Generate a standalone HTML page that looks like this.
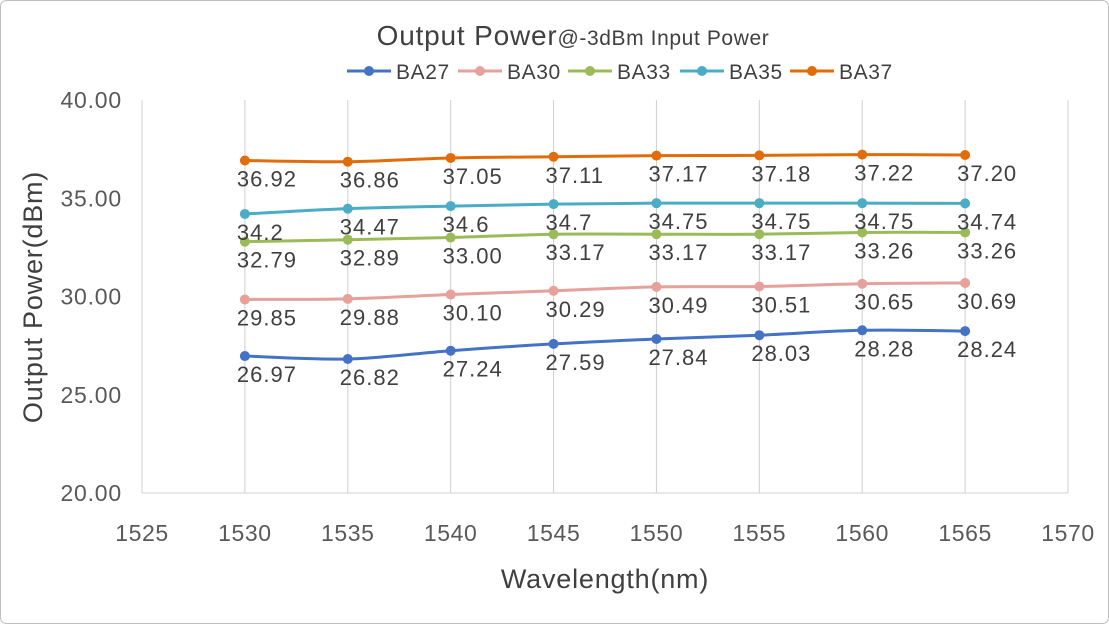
<!DOCTYPE html>
<html><head><meta charset="utf-8"><style>
body{margin:0;background:#fff;}
svg text{font-family:"Liberation Sans",sans-serif;}
</style></head><body>
<svg id="c" width="1109" height="624" xmlns="http://www.w3.org/2000/svg">
<rect x="0.5" y="0.5" width="1108" height="623" rx="6" fill="#fff" stroke="#bfbfbf"/>
<text x="573" y="45" text-anchor="middle" fill="#404040"><tspan font-size="28" letter-spacing="0.8">Output Power</tspan><tspan font-size="21" letter-spacing="0.6">@-3dBm Input Power</tspan></text>
<g id="grid"></g><g id="axes"></g><g id="series"></g><g id="legend"></g>
<text x="605" y="588" text-anchor="middle" font-size="27" letter-spacing="0.8" fill="#404040">Wavelength(nm)</text>
<text transform="translate(42,297) rotate(-90)" text-anchor="middle" font-size="27" letter-spacing="0.8" fill="#404040">Output Power(dBm)</text>
</svg>
<script>
const categories=[1530,1535,1540,1545,1550,1555,1560,1565];
const seriesNames=["BA27","BA30","BA33","BA35","BA37"];
const ba27=[26.97,26.82,27.24,27.59,27.84,28.03,28.28,28.24];
const ba30=[29.85,29.88,30.10,30.29,30.49,30.51,30.65,30.69];
const ba33=[32.79,32.89,33.00,33.17,33.17,33.17,33.26,33.26];
const ba35=[34.2,34.47,34.6,34.7,34.75,34.75,34.75,34.74];
const ba37=[36.92,36.86,37.05,37.11,37.17,37.18,37.22,37.20];
const lab27=["26.97","26.82","27.24","27.59","27.84","28.03","28.28","28.24"];
const lab30=["29.85","29.88","30.10","30.29","30.49","30.51","30.65","30.69"];
const lab33=["32.79","32.89","33.00","33.17","33.17","33.17","33.26","33.26"];
const lab35=["34.2","34.47","34.6","34.7","34.75","34.75","34.75","34.74"];
const lab37=["36.92","36.86","37.05","37.11","37.17","37.18","37.22","37.20"];
const xTicks=[1525,1530,1535,1540,1545,1550,1555,1560,1565,1570];
const yTicks=[20,25,30,35,40];
const yTickLabels=["20.00","25.00","30.00","35.00","40.00"];
const colors=["#4472c4","#e6a19b","#9bbb59","#4bacc6","#e36c0a"];
const NS="http://www.w3.org/2000/svg";
const X=v=>142+(v-1525)*(926/45);
const Y=v=>493-(v-20)*(393/20);
function mk(t,a,p){const e=document.createElementNS(NS,t);for(const k in a)e.setAttribute(k,a[k]);p.appendChild(e);return e;}
const grid=document.getElementById('grid'),axes=document.getElementById('axes');
xTicks.forEach((v,i)=>{
 const l=mk('line',{x1:X(v),x2:X(v),y1:Y(40),y2:Y(20),stroke:'#d0d0d0','stroke-width':1},grid);
 
 
 const t=mk('text',{x:X(v),y:541,'text-anchor':'middle','font-size':23,'letter-spacing':0.6,fill:'#595959'},axes);t.textContent=v;
 
 
});
yTicks.forEach((v,i)=>{
 const t=mk('text',{x:122,y:Y(v)+8,'text-anchor':'end','font-size':23,'letter-spacing':0.8,fill:'#595959'},axes);t.textContent=yTickLabels[i];
 
 
});
const bl=mk('line',{x1:X(1525),x2:X(1570),y1:Y(20),y2:Y(20),stroke:'#d0d0d0'},axes);


const data=[ba27,ba30,ba33,ba35,ba37],labs=[lab27,lab30,lab33,lab35,lab37];
const sg=document.getElementById('series');
function smooth(pts){let d=`M${pts[0][0]},${pts[0][1]}`;for(let i=0;i<pts.length-1;i++){const p0=pts[i-1]||pts[i],p1=pts[i],p2=pts[i+1],p3=pts[i+2]||p2;const t=0.5/3;d+=` C${p1[0]+(p2[0]-p0[0])*t},${p1[1]+(p2[1]-p0[1])*t} ${p2[0]-(p3[0]-p1[0])*t},${p2[1]-(p3[1]-p1[1])*t} ${p2[0]},${p2[1]}`;}return d;}
data.forEach((s,si)=>{
 const pts=s.map((v,i)=>[X(categories[i]),Y(v)]);
 const p=mk('path',{d:smooth(pts),fill:'none',stroke:colors[si],'stroke-width':3},sg);
 
 
 pts.forEach((q,i)=>{
  const c=mk('circle',{cx:q[0],cy:q[1],r:5,fill:colors[si]},sg);
  
  
  const t=mk('text',{x:q[0]-8,y:q[1]+26,'font-size':22,'letter-spacing':1,fill:'#404040'},sg);t.textContent=labs[si][i];
  
  
 });
});
const lg=document.getElementById('legend');
const lx=[347,458,568,680,790];
seriesNames.forEach((n,i)=>{
 const g=mk('g',{},lg);
 
 
 mk('line',{x1:lx[i],x2:lx[i]+44,y1:71,y2:71,stroke:colors[i],'stroke-width':3},g);
 mk('circle',{cx:lx[i]+22,cy:71,r:5,fill:colors[i]},g);
 const t=mk('text',{x:lx[i]+49,y:79,'font-size':21,'letter-spacing':0.6,fill:'#404040'},g);t.textContent=n;
});
</script>
</body></html>
